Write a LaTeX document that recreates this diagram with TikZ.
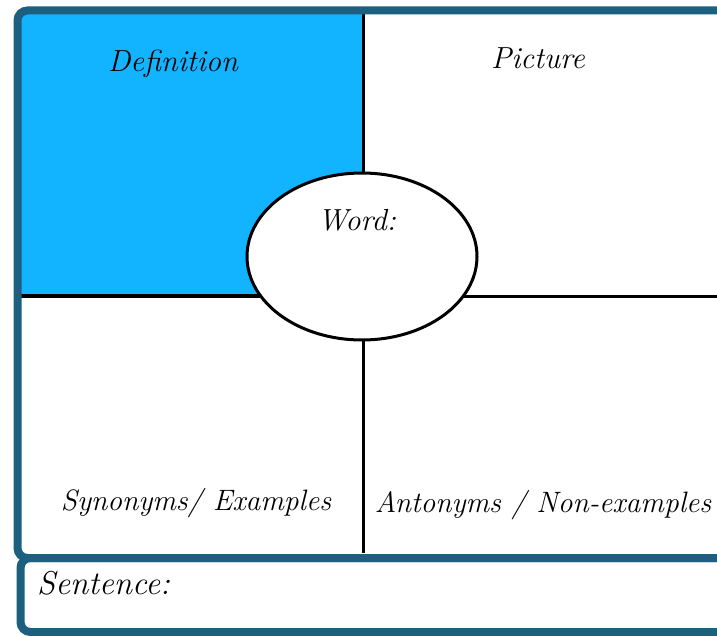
\documentclass[tikz,border=0pt]{standalone}
\usetikzlibrary{shapes.geometric}
\definecolor{framecol}{RGB}{28,95,126}
\definecolor{defblue}{RGB}{18,180,255}
\tikzset{
  frameline/.style={draw=framecol, line width=8pt, rounded corners=10pt},
  divider/.style={draw=black, line width=3pt},
  lbl/.style={font=\fontsize{30.5}{36}\selectfont\itshape, inner sep=0pt, text=black},
  lblsmall/.style={lbl, font=\fontsize{29.5}{35}\selectfont\itshape},
}
\begin{document}
\begin{tikzpicture}[x=1pt,y=-1pt]
\clip (0,0) rectangle (717,636);
\fill[white] (0,0) rectangle (717,636);
% definition quadrant
\fill[defblue] (21,14) rectangle (363,296);
% coordinates
\coordinate (topmid) at (363,14);
\coordinate (botmid) at (363,553);
\coordinate (leftmid) at (21,296);
\coordinate (rightmid) at (720,296);
\node[ellipse, draw=none, minimum width=230pt, minimum height=167pt, inner sep=0pt] (word) at (362,256.5) {};
% dividers
\draw[divider] (topmid) -- (botmid);
\draw[divider, line width=4pt] (leftmid) -- (word.center |- leftmid);
\draw[divider] (word.center |- rightmid) -- (rightmid);
% central ellipse
\node[ellipse, draw=black, fill=white, line width=3pt, minimum width=230pt, minimum height=167pt, inner sep=0pt] (wordshape) at (362,256.5) {};
% frames
\draw[frameline] (740,10.5) -- (17.5,10.5) -- (17.5,558) -- (740,558);
\draw[frameline] (740,558) -- (20.5,558) -- (20.5,632) -- (740,632);
% labels
\node[lbl] (ldef) at (173,64) {Definition};
\node[lbl] (lpic) at (538,58) {Picture};
\node[lbl] (lword) at (357,220) {Word:};
\node[lblsmall] (lsyn) at (196,503) {Synonyms/ Examples};
\node[lblsmall] (lant) at (543,505) {Antonyms / Non-examples};
\node[lbl, anchor=west, font=\fontsize{33}{38}\selectfont\itshape] (lsen) at (37,583) {Sentence:};
\end{tikzpicture}
\end{document}
